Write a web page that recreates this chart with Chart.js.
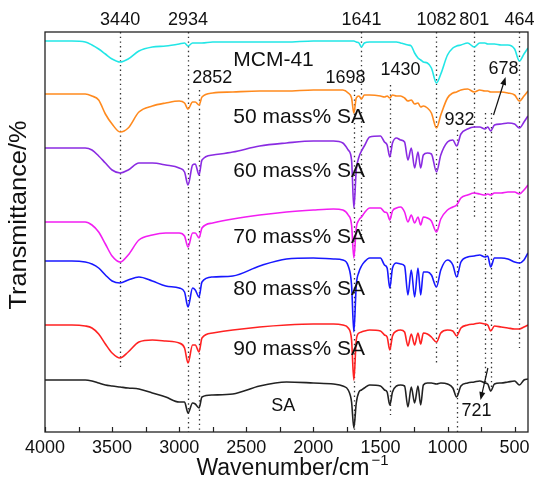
<!DOCTYPE html>
<html>
<head>
<meta charset="utf-8">
<script src="https://cdn.jsdelivr.net/npm/chart.js@4.4.0/dist/chart.umd.min.js"></script>
<style>
  html, body { margin: 0; background: #fff; }
</style>
</head>
<body>
<canvas id="chart" width="538" height="484"></canvas>
<script>
// wavenumber grid (cm-1), shared by all spectra
const wavenumbers = [4000, 3800, 3700, 3650, 3600, 3550, 3500, 3440, 3380, 3300,
  3200, 3100, 3000, 2960, 2934, 2900, 2880, 2852, 2830, 2750,
  2600, 2400, 2200, 2000, 1850, 1780, 1740, 1715, 1698, 1680,
  1660, 1641, 1620, 1580, 1500, 1470, 1450, 1430, 1410, 1380,
  1350, 1320, 1295, 1270, 1245, 1220, 1200, 1180, 1150, 1120,
  1082, 1050, 1000, 960, 932, 900, 850, 801, 760, 721,
  700, 678, 650, 600, 550, 500, 464, 430, 400]

// offset transmittance (a.u.)
const mcm41 = [391, 391, 390, 387, 383, 378, 373, 370, 373, 381,
  385, 386, 388, 389, 386, 389, 389, 389, 389, 390,
  390, 390, 390, 391, 391, 391, 391, 391, 391, 390,
  389, 385, 389, 390, 390, 390, 390, 390, 390, 390,
  389, 388, 387, 386, 379, 374, 372, 370, 369, 364,
  349, 358, 377, 384, 386, 387, 389, 385, 389, 389,
  388, 388, 388, 387, 387, 383, 371, 378, 384]
const sa50 = [338, 338, 338, 336, 332, 318, 308, 300, 304, 320,
  326, 329, 331, 329, 323, 330, 330, 327, 335, 339,
  340, 341, 341, 342, 342, 342, 339, 334, 319, 334,
  336, 333, 337, 337, 336, 335, 336, 334, 337, 336,
  336, 334, 331, 332, 328, 329, 325, 326, 324, 319,
  304, 317, 334, 339, 340, 342, 343, 340, 342, 341,
  341, 340, 340, 340, 339, 337, 331, 336, 341]
const sa60 = [284, 284, 284, 282, 276, 269, 262, 259, 262, 269,
  269, 267, 264, 260, 247, 267, 268, 257, 272, 277,
  280, 286, 289, 291, 291, 289, 282, 272, 224, 262,
  275, 281, 286, 295, 296, 290, 287, 275, 289, 294,
  292, 290, 272, 284, 264, 280, 264, 277, 279, 278,
  260, 277, 290, 292, 286, 298, 303, 305, 305, 303,
  305, 301, 307, 308, 309, 308, 304, 310, 316]
const sa70 = [210, 210, 210, 207, 200, 188, 176, 170, 177, 192,
  197, 199, 199, 196, 185, 199, 199, 194, 204, 209,
  213, 217, 220, 222, 223, 222, 217, 207, 174, 204,
  212, 215, 219, 224, 224, 220, 219, 212, 221, 224,
  225, 220, 210, 217, 209, 215, 207, 215, 214, 211,
  200, 213, 222, 225, 227, 234, 237, 239, 238, 237,
  238, 237, 239, 239, 240, 240, 238, 242, 247]
const sa80 = [171, 171, 170, 168, 164, 157, 151, 149, 152, 155,
  151, 146, 144, 140, 125, 144, 142, 135, 150, 155,
  156, 166, 173, 174, 173, 172, 166, 147, 100, 147,
  160, 166, 170, 174, 174, 167, 164, 144, 164, 169,
  168, 166, 137, 162, 135, 164, 137, 160, 160, 157,
  145, 162, 172, 167, 155, 170, 175, 176, 177, 175,
  176, 165, 174, 174, 173, 170, 169, 172, 179]
const sa90 = [107, 107, 106, 104, 98, 88, 79, 74, 80, 90,
  92, 91, 89, 84, 69, 87, 87, 80, 94, 99,
  102, 105, 107, 108, 108, 107, 104, 92, 52, 92,
  99, 100, 101, 102, 101, 97, 95, 82, 96, 101,
  102, 100, 86, 98, 87, 99, 88, 99, 98, 95,
  90, 99, 102, 101, 96, 104, 107, 108, 109, 108,
  107, 101, 106, 105, 104, 103, 103, 105, 107]
const saPure = [52, 52, 52, 51, 49, 47, 46, 45, 44, 43,
  39, 35, 30, 30, 19, 29, 28, 24, 35, 37,
  38, 46, 50, 49, 48, 46, 42, 30, 4, 29,
  40, 42, 44, 47, 46, 42, 40, 27, 40, 46,
  47, 46, 25, 45, 29, 46, 27, 47, 49, 49,
  48, 49, 48, 44, 35, 46, 49, 50, 51, 49,
  48, 41, 48, 49, 50, 51, 47, 52, 53]

const sampleNames = ['MCM-41', '50 mass% SA', '60 mass% SA', '70 mass% SA', '80 mass% SA', '90 mass% SA', 'SA']
const sampleValues = [mcm41, sa50, sa60, sa70, sa80, sa90, saPure]
const sampleColors = ['#22e6e6', '#ff8a1e', '#8a2be2', '#f21ef2', '#1818ff', '#ff2222', '#222222']

const xTicks = [4000, 3500, 3000, 2500, 2000, 1500, 1000, 500]

// peak marker: wavenumber, from, to (same units as spectra)
const peakLines = [[3440, 400, 64], [2934, 400, 0], [2852, 342, 0], [1698, 342, 0],
  [1641, 400, 197], [1430, 347, 17], [1082, 400, 67], [932, 302, 0],
  [801, 400, 212], [721, 319, 47], [678, 319, 42], [464, 400, 84]]
const topPeaks = [3440, 2934, 1641, 1082, 801, 464]
// text, wavenumber, value
const innerPeaks = [['2852', 2754, 354], ['1698', 1761, 354], ['1430', 1351, 362],
  ['932', 910, 312], ['678', 582, 363], ['721', 784, 21]]
// arrow from -> to
const arrows = [[657, 317, 567, 355], [699, 64, 754, 32]]
// where sample names sit
const nameAt = [[2597, 372], [2597, 315], [2597, 261], [2597, 195], [2597, 143], [2597, 83], [2224, 26]]

const FONT = '"Liberation Sans", Arial, Helvetica, sans-serif'
Chart.defaults.font.family = FONT
Chart.defaults.color = '#111'

const decor = {
  id: 'decor',
  beforeDatasetsDraw(chart) {
    const { ctx, scales: { x, y } } = chart
    ctx.save()
    ctx.strokeStyle = '#333'
    ctx.lineWidth = 1.3
    ctx.setLineDash([1.4, 3.3])
    peakLines.forEach(([w, a, b]) => {
      const px = Math.round(x.getPixelForValue(w)) + 0.5
      ctx.beginPath()
      ctx.moveTo(px, y.getPixelForValue(a))
      ctx.lineTo(px, y.getPixelForValue(b))
      ctx.stroke()
    })
    ctx.restore()
  },
  afterDatasetsDraw(chart) {
    const { ctx, chartArea: area, scales: { x, y } } = chart
    ctx.save()
    // frame
    ctx.strokeStyle = '#222'
    ctx.lineWidth = 1.3
    ctx.strokeRect(area.left, area.top, area.right - area.left, area.bottom - area.top)
    // inward ticks, majors and halves
    ctx.lineWidth = 1.2
    xTicks.forEach(t => {
      [t, t - 250].forEach(v => {
        if (v < 400) return
        const px = Math.round(x.getPixelForValue(v)) + 0.5
        ctx.beginPath()
        ctx.moveTo(px, area.bottom)
        ctx.lineTo(px, area.bottom - 5)
        ctx.stroke()
      })
    })

    ctx.fillStyle = '#111'
    ctx.textAlign = 'center'
    ctx.textBaseline = 'middle'
    ctx.font = '18px ' + FONT
    topPeaks.forEach(w => ctx.fillText(String(w), x.getPixelForValue(w), area.top - 12))
    innerPeaks.forEach(([t, w, v]) => ctx.fillText(t, x.getPixelForValue(w), y.getPixelForValue(v)))

    // sample names
    sampleNames.forEach((n, i) => {
      const [w, v] = nameAt[i]
      if (n === 'SA') {
        ctx.font = '18px ' + FONT
        ctx.textAlign = 'center'
      } else {
        ctx.font = '21px ' + FONT
        ctx.textAlign = 'left'
      }
      ctx.fillText(n, x.getPixelForValue(w), y.getPixelForValue(v))
    })

    // arrows
    ctx.strokeStyle = '#111'
    ctx.lineWidth = 1.2
    arrows.forEach(([w0, v0, w1, v1]) => {
      const x0 = x.getPixelForValue(w0), y0 = y.getPixelForValue(v0)
      const x1 = x.getPixelForValue(w1), y1 = y.getPixelForValue(v1)
      const ang = Math.atan2(y1 - y0, x1 - x0)
      ctx.beginPath()
      ctx.moveTo(x0, y0)
      ctx.lineTo(x1 - 5 * Math.cos(ang), y1 - 5 * Math.sin(ang))
      ctx.stroke()
      ctx.beginPath()
      ctx.moveTo(x1, y1)
      ctx.lineTo(x1 - 8 * Math.cos(ang) + 3 * Math.sin(ang), y1 - 8 * Math.sin(ang) - 3 * Math.cos(ang))
      ctx.lineTo(x1 - 8 * Math.cos(ang) - 3 * Math.sin(ang), y1 - 8 * Math.sin(ang) + 3 * Math.cos(ang))
      ctx.closePath()
      ctx.fill()
    })

    // axis titles
    ctx.font = '23px ' + FONT
    ctx.textAlign = 'left'
    const main = 'Wavenumber/cm'
    const tw = ctx.measureText(main).width
    ctx.font = '15px ' + FONT
    const sw = ctx.measureText('\u22121').width
    const x0 = (area.left + area.right) / 2 - (tw + sw + 2) / 2 + 6
    ctx.font = '23px ' + FONT
    ctx.fillText(main, x0, 469)
    ctx.font = '15px ' + FONT
    ctx.fillText('\u22121', x0 + tw + 2, 461)

    ctx.translate(20, 215)
    ctx.rotate(-Math.PI / 2)
    ctx.scale(1.1, 1)
    ctx.font = '23px ' + FONT
    ctx.textAlign = 'center'
    ctx.fillText('Transmittance/%', 0, 0)
    ctx.restore()
  }
}

new Chart(document.getElementById('chart'), {
  type: 'line',
  data: {
    datasets: sampleNames.map((n, i) => ({
      label: n,
      data: wavenumbers.map((w, k) => ({ x: w, y: sampleValues[i][k] })),
      borderColor: sampleColors[i],
      borderWidth: 1.6,
      pointRadius: 0,
      cubicInterpolationMode: 'monotone',
      fill: false
    }))
  },
  options: {
    responsive: false,
    animation: false,
    devicePixelRatio: 1,
    layout: { padding: { top: 32, right: 10, left: 0, bottom: 0 } },
    plugins: { legend: { display: false }, tooltip: { enabled: false } },
    scales: {
      x: {
        type: 'linear', min: 400, max: 4000, reverse: true,
        grid: { display: false, drawTicks: false },
        border: { display: false },
        ticks: { font: { size: 18 }, color: '#111', padding: 5, maxRotation: 0, callback: v => String(v) },
        afterBuildTicks: s => { s.ticks = xTicks.map(v => ({ value: v })) },
        afterFit: s => { s.height = 52 }
      },
      y: {
        min: 0, max: 400,
        grid: { display: false, drawTicks: false },
        border: { display: false },
        ticks: { display: false },
        afterFit: s => { s.width = 45 }
      }
    }
  },
  plugins: [decor]
})
</script>
</body>
</html>
